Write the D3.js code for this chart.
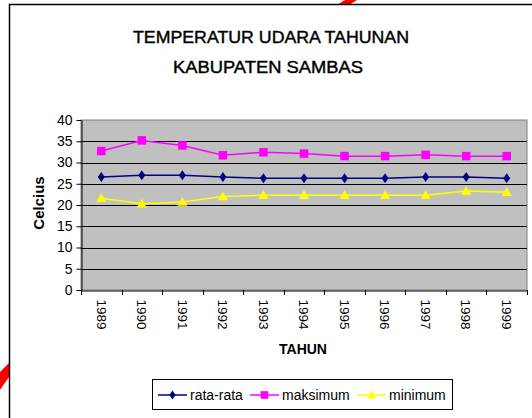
<!DOCTYPE html>
<html><head><meta charset="utf-8">
<script src="https://cdn.jsdelivr.net/npm/d3@7"></script>
<style>html,body{margin:0;padding:0;background:#fff;}svg{display:block;font-family:Arial,"Liberation Sans",sans-serif;}</style>
</head><body>
<script>
const years = ["1989","1990","1991","1992","1993","1994","1995","1996","1997","1998","1999"];
const rataRata = [26.6,27.0,27.0,26.6,26.3,26.3,26.3,26.3,26.6,26.6,26.3];
const maksimum = [32.7,35.2,34.0,31.7,32.4,32.1,31.5,31.5,31.8,31.5,31.5];
const minimum  = [21.6,20.3,20.7,22.0,22.3,22.3,22.3,22.3,22.3,23.3,23.0];
const yTicks = [0,5,10,15,20,25,30,35,40];
const titleLines = ["TEMPERATUR UDARA TAHUNAN","KABUPATEN SAMBAS"];
const series = [
  {name:"rata-rata", values:rataRata, color:"#000080", marker:"diamond"},
  {name:"maksimum", values:maksimum, color:"#FF00FF", marker:"square"},
  {name:"minimum", values:minimum, color:"#FFFF00", marker:"triangle"}
];

const W=532,H=418;
const svg=d3.select("body").append("svg").attr("width",W).attr("height",H);

// red decorations
svg.append("polygon").attr("points","345,0 357,0 349,5 337,5").attr("fill","#ff0000");
svg.append("polygon").attr("points","9,363 9,377 0,390 0,372").attr("fill","#ff0000");

// outer frame
svg.append("rect").attr("x",9.5).attr("y",4.5).attr("width",700).attr("height",600)
  .attr("fill","none").attr("stroke","#000").attr("stroke-width",1.5);

const L=81,R=527,T=120,B=290;
const x=d3.scaleBand().domain(years).range([L,R]);
const y=d3.scaleLinear().domain([0,40]).range([B,T]);

// plot area
svg.append("rect").attr("x",L).attr("y",T).attr("width",R-L).attr("height",B-T)
  .attr("fill","#C0C0C0").attr("stroke","#808080").attr("stroke-width",1);

// gridlines
svg.append("g").selectAll("line").data(yTicks.filter(d=>d>0&&d<40)).join("line")
  .attr("x1",L).attr("x2",R).attr("y1",d=>Math.round(y(d))+0.5).attr("y2",d=>Math.round(y(d))+0.5)
  .attr("stroke","#000").attr("stroke-width",1);

// y axis
const ya=svg.append("g").attr("transform",`translate(${L+0.5},0)`)
  .call(d3.axisLeft(y).tickValues(yTicks).tickSize(5).tickPadding(4).tickSizeOuter(0));
ya.select(".domain").attr("stroke","#000");
ya.selectAll(".tick line").attr("stroke","#000");
ya.selectAll("text").attr("font-size","14px").attr("fill","#000").attr("font-family","Arial,'Liberation Sans',sans-serif");

// x axis
const xa=svg.append("g").attr("transform",`translate(0,${B+0.5})`)
  .call(d3.axisBottom(x).tickSize(0).tickSizeOuter(0));
xa.select(".domain").attr("stroke","#000");
xa.selectAll("text").attr("font-size","13.5px").attr("fill","#000")
  .attr("font-family","Arial,'Liberation Sans',sans-serif")
  .attr("transform","rotate(90)").attr("text-anchor","start").attr("dy","0.35em").attr("y",0).attr("x",9);
// ticks between categories
const bounds=years.map(d=>x(d)).concat([R]);
svg.append("g").selectAll("line").data(bounds).join("line")
  .attr("x1",d=>Math.round(d)+0.5).attr("x2",d=>Math.round(d)+0.5).attr("y1",B).attr("y2",B+5)
  .attr("stroke","#000");

// markers
function marker(g,type,color,size){
  if(type==="diamond"){
    g.append("path").attr("d",`M0,${-size}L${size*0.7},0L0,${size}L${-size*0.7},0Z`).attr("fill",color);
  } else if(type==="square"){
    g.append("rect").attr("x",-size*0.85).attr("y",-size*0.85).attr("width",size*1.7).attr("height",size*1.7).attr("fill",color);
  } else {
    g.append("path").attr("d",`M0,${-size}L${size},${size*0.75}L${-size},${size*0.75}Z`).attr("fill",color);
  }
}

const cx=d=>x(d)+x.bandwidth()/2;
series.forEach(s=>{
  const line=d3.line().x((v,i)=>cx(years[i])).y(v=>y(v));
  svg.append("path").datum(s.values).attr("d",line).attr("fill","none")
    .attr("stroke",s.color).attr("stroke-width",1.5);
  s.values.forEach((v,i)=>{
    const g=svg.append("g").attr("transform",`translate(${cx(years[i])},${y(v)})`);
    marker(g,s.marker,s.color,5);
  });
});

// titles
svg.append("text").attr("x",271).attr("y",43).attr("text-anchor","middle")
  .attr("font-size","17px").attr("stroke","#000").attr("stroke-width",0.4)
  .attr("textLength",276).attr("lengthAdjust","spacingAndGlyphs").text(titleLines[0]);
svg.append("text").attr("x",268).attr("y",73).attr("text-anchor","middle")
  .attr("font-size","17px").attr("stroke","#000").attr("stroke-width",0.4)
  .attr("textLength",190).attr("lengthAdjust","spacingAndGlyphs").text(titleLines[1]);

// axis titles
svg.append("text").attr("transform","translate(44,203) rotate(-90)").attr("text-anchor","middle")
  .attr("font-size","15px").attr("font-weight","bold").text("Celcius");
svg.append("text").attr("x",303).attr("y",354).attr("text-anchor","middle")
  .attr("font-size","14px").attr("font-weight","bold").text("TAHUN");

// legend
svg.append("rect").attr("x",152.5).attr("y",379.5).attr("width",300).attr("height",30)
  .attr("fill","#fff").attr("stroke","#000").attr("stroke-width",1);
const legX=[158,250,357];
series.forEach((s,i)=>{
  const lx=legX[i], ly=395;
  svg.append("line").attr("x1",lx).attr("x2",lx+29).attr("y1",ly).attr("y2",ly)
    .attr("stroke",s.color).attr("stroke-width",1.5);
  const g=svg.append("g").attr("transform",`translate(${lx+14.5},${ly})`);
  marker(g,s.marker,s.color,4.5);
  svg.append("text").attr("x",lx+32).attr("y",ly+5).attr("font-size","14px").text(s.name);
});
</script>
</body></html>
